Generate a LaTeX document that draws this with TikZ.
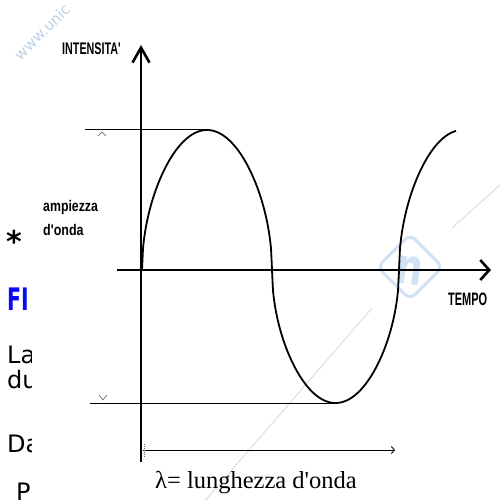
\documentclass[tikz,border=0pt]{standalone}
\usepackage{fontspec}
\setmainfont{Liberation Serif}[Ligatures=TeXOff]
\newfontfamily\arialf{Liberation Sans}[Ligatures=TeXOff]
\newfontfamily\djv{DejaVu Sans}
\usetikzlibrary{arrows.meta}
\definecolor{wm}{RGB}{208,226,243}
\definecolor{wmtext}{RGB}{190,210,232}
\definecolor{hblue}{RGB}{10,10,245}
\begin{document}
\begin{tikzpicture}[x=1pt,y=-1pt,
  axis/.style={line width=2.6pt},
  thinline/.style={line width=0.9pt},
  wave/.style={line width=1.8pt},
  tickmark/.style={line width=0.5pt, draw=black!70},
  lbl/.style={inner sep=0pt, anchor=base west},
  frag/.style={inner sep=0pt, anchor=base west, font=\djv\fontsize{24}{24}\selectfont}]
\useasboundingbox (0,0) rectangle (499,501);
\fill[white] (0,0) rectangle (499,501);

% watermark
\draw[wm, line width=1pt] (372,308) -- (205,501);
\draw[wm, line width=1pt] (452,228) -- (510,176);
\draw[wm, line width=3pt, rounded corners=7pt, rotate around={45:(410,267)}] (387,244) rectangle (433,290);
\node[text=wm, rotate=-8, font=\djv\bfseries\fontsize{50}{50}\selectfont, inner sep=0pt] (logo) at (410,270) {\scalebox{0.75}[1]{n}};
\node[text=wmtext, rotate=45, font=\djv\fontsize{15}{15}\selectfont, inner sep=0pt] (wmt) at (42,32) {www.unic};

% left clipped fragments
\begin{scope}
\clip (0,0) rectangle (31,501);
\node[inner sep=0pt, anchor=north, font=\djv\bfseries\fontsize{30}{30}\selectfont] (ast) at (14,230) {*};
\node[lbl, text=hblue, font=\djv\bfseries\fontsize{31}{31}\selectfont] (fi) at (7,310) {\scalebox{0.66}[1]{FI}};
\node[frag] (la) at (7,363) {La};
\node[frag] (du) at (7,388) {du};
\node[frag] (da) at (7,452) {Da};
\node[frag] (p) at (16,500) {P};
\end{scope}

% amplitude lines and marks
\draw[thinline] (85,129) -- (207,129);
\draw[thinline] (90,403) -- (336,403);
\draw[tickmark] (98,136) -- (102,132) -- (106,136);
\draw[tickmark] (99,395) -- (103,400) -- (107,395);

% wavelength arrow
\coordinate (lw0) at (143,450);
\coordinate (lw1) at (395,450);
\draw[thinline, -{Straight Barb[length=3pt,width=7pt]}] (lw0) -- (lw1);
\draw[line width=0.6pt, black!60, dash pattern=on 1pt off 1pt] (144,444) -- (144,458);

% axes
\coordinate (o) at (141,270);
\coordinate (ybot) at (141,462);
\coordinate (ytop) at (141,45);
\coordinate (xl) at (117,270);
\coordinate (xr) at (491,270);
\draw[axis, -{Straight Barb[length=15pt,width=17pt]}] (ybot) -- (ytop);
\draw[axis, -{Straight Barb[length=9pt,width=20pt]}] (xl) -- (xr);

% wave
\draw[wave, line join=round]
  plot[domain=142:272, samples=130] (\x, {270-140*sqrt(abs(sin((\x-142)/130*180)))})
  -- plot[domain=272:399, samples=127] (\x, {270+133*sqrt(abs(sin((\x-272)/127*180)))})
  -- plot[domain=399:456, samples=60] (\x, {270-140*sqrt(abs(sin((\x-399)/127*180)))});

% labels
\node[lbl, font=\arialf\bfseries\fontsize{16.8}{16.8}\selectfont] (int) at (62,54) {\scalebox{0.64}[1]{INTENSITA'}};
\node[lbl, font=\arialf\bfseries\fontsize{18}{18}\selectfont] (tempo) at (448,305) {\scalebox{0.61}[1]{TEMPO}};
\node[lbl, font=\arialf\bfseries\fontsize{15.4}{15.4}\selectfont] (amp) at (43,211) {\scalebox{0.8}[1]{ampiezza}};
\node[lbl, font=\arialf\bfseries\fontsize{15.4}{15.4}\selectfont] (donda) at (43,235) {\scalebox{0.81}[1]{d'onda}};
\node[lbl, font=\fontsize{24.5}{24.5}\selectfont] (lambda) at (155,488) {λ= lunghezza d'onda};
\end{tikzpicture}
\end{document}
